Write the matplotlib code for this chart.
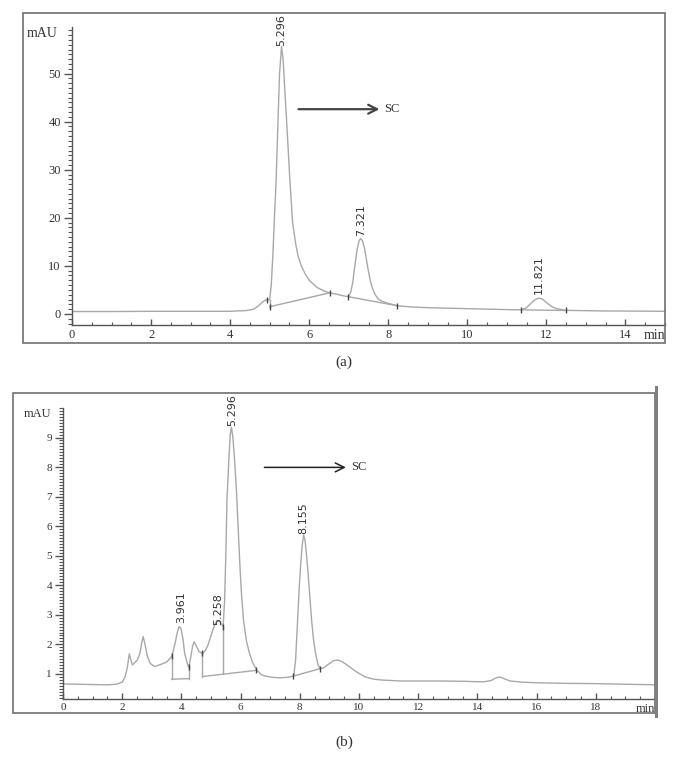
import matplotlib.pyplot as plt
from matplotlib.patches import Rectangle
from matplotlib.lines import Line2D
from matplotlib.ticker import MultipleLocator

plt.rcParams["font.family"] = ["Liberation Serif", "DejaVu Serif"]

# ---- (a) chromatogram ----
T_A = [0.0, 1.0, 2.0, 2.5, 3.0, 4.0, 4.4, 4.6, 4.72, 4.82, 4.9, 4.96, 5.0,
       5.04, 5.08, 5.12, 5.16, 5.21, 5.25, 5.3, 5.34, 5.38, 5.43, 5.51, 5.58,
       5.66, 5.72, 5.8, 5.9, 6.0, 6.2, 6.4, 6.52, 6.7, 6.85, 6.98, 7.05, 7.1,
       7.15, 7.21, 7.26, 7.3, 7.35, 7.4, 7.45, 7.5, 7.55, 7.6, 7.67, 7.75,
       7.85, 8.0, 8.23, 8.6, 9.0, 9.5, 10.0, 10.5, 11.0, 11.36, 11.5, 11.62,
       11.72, 11.81, 11.9, 12.0, 12.12, 12.25, 12.5, 13.0, 13.5, 14.0, 14.5,
       15.0]
Y_A = [0.5, 0.5, 0.55, 0.55, 0.55, 0.55, 0.7, 1.0, 1.7, 2.5, 2.9, 2.9, 3.0,
       6.0, 12.0, 20.0, 27.0, 40.0, 50.0, 55.6, 53.0, 47.0, 40.0, 28.0, 19.0,
       14.5, 12.0, 10.0, 8.3, 7.0, 5.5, 4.7, 4.4, 4.1, 3.8, 3.6, 4.5, 6.5,
       9.8, 13.3, 15.2, 15.7, 15.2, 13.6, 11.2, 8.8, 6.8, 5.3, 4.0, 3.1,
       2.6, 2.2, 1.7, 1.45, 1.3, 1.2, 1.1, 1.0, 0.9, 0.85, 1.3, 2.3,
       3.0, 3.3, 3.1, 2.4, 1.6, 1.1, 0.75, 0.68, 0.62, 0.6, 0.58,
       0.55]
# integration baselines / drop lines: (t0, y0, t1, y1)
BASE_A = [(5.0, 1.5, 6.52, 4.4), (5.0, 2.95, 5.0, 1.5),
          (6.98, 3.6, 8.23, 1.7), (11.36, 0.85, 12.5, 0.72)]
MARK_A_T = [4.92, 5.0, 6.52, 6.98, 8.23, 11.36, 12.5]
MARK_A_Y = [2.9, 1.5, 4.4, 3.6, 1.7, 0.85, 0.72]
PEAK_A_T = [5.28, 7.32, 11.81]
PEAK_A_Y = [55.8, 16.2, 4.2]
PEAK_A_LBL = ["5.296", "7.321", "11.821"]

# ---- (b) chromatogram ----
T_B = [0, 0.5, 1.0, 1.5, 1.8, 2.0, 2.1, 2.17, 2.24, 2.3, 2.35, 2.42, 2.5,
       2.6, 2.66, 2.71, 2.77, 2.85, 2.95, 3.1, 3.3, 3.5, 3.67, 3.78, 3.86,
       3.92, 3.98, 4.05, 4.11, 4.2, 4.25, 4.32, 4.38, 4.43, 4.5, 4.6, 4.71,
       4.8, 4.9, 5.0, 5.1, 5.2, 5.3, 5.41, 5.46, 5.5, 5.54, 5.6, 5.65, 5.69,
       5.74, 5.8, 5.86, 5.92, 5.98, 6.03, 6.1, 6.2, 6.3, 6.4, 6.53, 6.7,
       6.87, 7.1, 7.32, 7.55, 7.77, 7.8, 7.86, 7.92, 7.98, 8.03, 8.08, 8.13,
       8.18, 8.23, 8.28, 8.34, 8.4, 8.47, 8.55, 8.62, 8.69, 8.8, 9.0, 9.15,
       9.3, 9.45, 9.6, 9.9, 10.2, 10.5, 10.8, 11.4, 12.0, 12.7, 13.5, 14.2,
       14.45, 14.6, 14.75, 14.9, 15.1, 15.5, 16.0, 17.0, 18.0, 19.0, 20.0]
Y_B = [0.66, 0.65, 0.64, 0.63, 0.65, 0.72, 0.9, 1.2, 1.68, 1.45, 1.3, 1.38,
       1.45, 1.7, 2.05, 2.26, 2.0, 1.6, 1.35, 1.25, 1.32, 1.4, 1.59, 2.0, 2.4,
       2.6, 2.55, 2.2, 1.7, 1.35, 1.22, 1.6, 1.95, 2.09, 1.95, 1.75, 1.7,
       1.78, 1.98, 2.3, 2.6, 2.8, 2.78, 2.6, 3.5, 5.0, 6.9, 8.2, 9.1, 9.35,
       9.0, 8.2, 7.2, 5.9, 4.6, 3.7, 2.8, 2.1, 1.7, 1.4, 1.15, 0.97,
       0.92, 0.88, 0.87, 0.88, 0.92, 0.95, 1.5, 2.7, 3.9, 4.7, 5.35, 5.7,
       5.5, 5.0, 4.4, 3.6, 2.8, 2.1, 1.6, 1.3, 1.18, 1.2, 1.35, 1.45,
       1.47, 1.4, 1.3, 1.08, 0.9, 0.82, 0.79, 0.76, 0.76, 0.76, 0.75, 0.73,
       0.77, 0.85, 0.9, 0.84, 0.76, 0.72, 0.7, 0.68, 0.67, 0.65, 0.63]
BASE_B = [(3.67, 1.59, 3.67, 0.82), (3.67, 0.82, 4.25, 0.84),
          (4.25, 0.84, 4.25, 1.22), (4.71, 1.7, 4.71, 0.91),
          (4.71, 0.91, 6.53, 1.12), (5.41, 2.6, 5.41, 0.99),
          (7.77, 0.92, 8.69, 1.18)]
MARK_B_T = [3.67, 4.25, 4.71, 5.41, 6.53, 7.77, 8.69]
MARK_B_Y = [1.59, 1.22, 1.7, 2.6, 1.13, 0.92, 1.18]
PEAK_B_T = [4.0, 5.24, 5.71, 8.13]
PEAK_B_Y = [2.72, 2.66, 9.4, 5.75]
PEAK_B_LBL = ["3.961", "5.258", "5.296", "8.155"]

W, H = 688, 771
TRACE = "#a8a8a8"
AXC = "#555555"
TXT = "#333333"


def fx(px):
    return px / W


def fy(py):
    return 1 - py / H


def style_axes(ax, xmax, ymin, ymax, yticks, ymin_step, fs, mau_x):
    ax.set_xlim(0, xmax)
    ax.set_ylim(ymin, ymax)
    for s in ["top", "right"]:
        ax.spines[s].set_visible(False)
    for s in ["left", "bottom"]:
        ax.spines[s].set_color(AXC)
        ax.spines[s].set_linewidth(1.0)
    ax.xaxis.set_minor_locator(MultipleLocator(0.5))
    ax.yaxis.set_minor_locator(MultipleLocator(ymin_step))
    ax.set_yticks(yticks)
    ax.set_yticklabels([str(v) for v in yticks])
    ax.tick_params(axis="y", which="major", direction="out", length=6,
                   width=1, color=AXC, labelsize=fs, labelcolor=TXT, pad=2)
    ax.tick_params(axis="y", which="minor", direction="out", length=3,
                   width=0.8, color=AXC)
    ax.tick_params(axis="x", which="major", direction="in", length=4,
                   width=1, color=AXC, labelsize=fs, labelcolor=TXT, pad=3)
    ax.tick_params(axis="x", which="minor", direction="in", length=2.5,
                   width=0.8, color=AXC)
    ticks = [t for t in range(0, int(xmax), 2)]
    ax.set_xticks(ticks)
    ax.set_xticklabels([str(t) for t in ticks])
    ax.text(xmax, -0.012, "min", transform=ax.get_xaxis_transform(),
            ha="right", va="top", fontsize=fs + 1, color=TXT)
    ax.text(mau_x, 1.0, "mAU", transform=ax.transAxes, ha="right",
            va="top", fontsize=fs + 1, color=TXT)


fig = plt.figure(figsize=(W / 100, H / 100), dpi=100)

# panel frames
fig.add_artist(Rectangle((fx(23), fy(343)), fx(642), 330 / H, fill=False,
                         edgecolor="#707070", lw=1.2,
                         transform=fig.transFigure))
fig.add_artist(Rectangle((fx(13), fy(713)), fx(642), 320 / H, fill=False,
                         edgecolor="#707070", lw=1.2,
                         transform=fig.transFigure))
fig.add_artist(Line2D([fx(656), fx(656)], [fy(387), fy(716)], color="#808080",
                      lw=2.2, transform=fig.transFigure))

# ---- (a) ----
ax1 = fig.add_axes([fx(72), fy(325), fx(593), 298 / H])
style_axes(ax1, 15, -2.3, 59.7, [0, 10, 20, 30, 40, 50], 1, 9, -0.024)
ax1.plot(T_A, Y_A, color=TRACE, lw=1.0)
for t0, y0, t1, y1 in BASE_A:
    ax1.plot([t0, t1], [y0, y1], color=TRACE, lw=1.0)
ax1.plot(MARK_A_T, MARK_A_Y, ls="none", marker="|", ms=4, color="#444444",
         mew=1)
for t, y, s in zip(PEAK_A_T, PEAK_A_Y, PEAK_A_LBL):
    ax1.text(t, y, s, rotation=90, ha="center", va="bottom", fontsize=8,
             color=TXT, family=["DejaVu Sans"])
ax1.annotate("", xy=(7.85, 42.6), xytext=(5.66, 42.6),
             arrowprops=dict(arrowstyle="->", color="#444444", lw=1.6,
                             mutation_scale=16))
ax1.text(7.9, 42.6, "SC", va="center", ha="left", fontsize=9, color=TXT)

# ---- (b) ----
ax2 = fig.add_axes([fx(63), fy(699.3), fx(592), 291.3 / H])
style_axes(ax2, 20, 0.14, 10.0, list(range(1, 10)), 0.1, 8, -0.02)
ax2.plot(T_B, Y_B, color=TRACE, lw=1.0)
for t0, y0, t1, y1 in BASE_B:
    ax2.plot([t0, t1], [y0, y1], color=TRACE, lw=1.0)
ax2.plot(MARK_B_T, MARK_B_Y, ls="none", marker="|", ms=4, color="#444444",
         mew=1)
for t, y, s in zip(PEAK_B_T, PEAK_B_Y, PEAK_B_LBL):
    ax2.text(t, y, s, rotation=90, ha="center", va="bottom", fontsize=8,
             color=TXT, family=["DejaVu Sans"])
ax2.annotate("", xy=(9.65, 7.99), xytext=(6.71, 7.99),
             arrowprops=dict(arrowstyle="->", color="#222222", lw=1.1,
                             mutation_scale=16))
ax2.text(9.72, 7.99, "SC", va="center", ha="left", fontsize=9, color=TXT)

fig.text(fx(344), fy(362), "(a)", ha="center", va="center", fontsize=11,
         color=TXT)
fig.text(fx(344), fy(742), "(b)", ha="center", va="center", fontsize=11,
         color=TXT)

fig.savefig("out.png", dpi=100)
